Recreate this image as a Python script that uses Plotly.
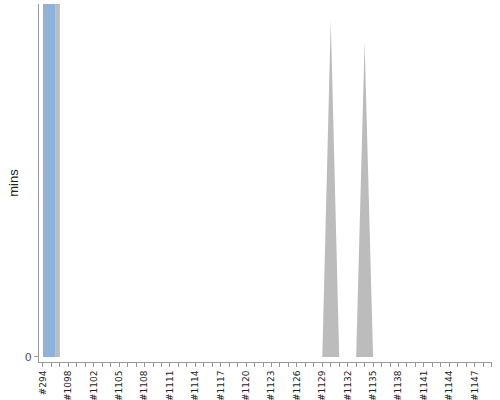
import plotly.graph_objects as go

# Build labels (categories on the x axis)
builds = ["#294", "#1096", "#1097", "#1098", "#1099", "#1101"] + [f"#{n}" for n in range(1102, 1150)]

# Tick labels shown (every third build)
shown_labels = ["#294", "#1098", "#1102", "#1105", "#1108", "#1111", "#1114", "#1117",
                "#1120", "#1123", "#1126", "#1129", "#1132", "#1135", "#1138", "#1141",
                "#1144", "#1147"]

# Build durations in minutes per result series (stacked)
# SUCCESS (blue): the very old outlier builds, far above the visible range
success_mins = [500, 500] + [0] * 52
# ABORTED / other (grey)
grey_mins = [0] * 54
grey_mins[builds.index("#1130")] = 0.955
grey_mins[builds.index("#1134")] = 0.892

ticktext = [b if b in shown_labels else "" for b in builds]

fig = go.Figure()
fig.add_trace(go.Scatter(
    x=builds, y=success_mins, stackgroup="s", mode="none",
    line=dict(shape="hvh", width=0), fillcolor="#8EB2D9", hoverinfo="skip"))
fig.add_trace(go.Scatter(
    x=builds, y=grey_mins, stackgroup="s", mode="none",
    line=dict(shape="linear", width=0), fillcolor="#BCBCBC", hoverinfo="skip"))

fig.update_layout(
    width=500, height=400,
    margin=dict(l=39, r=8, t=4, b=38, autoexpand=False),
    paper_bgcolor="white", plot_bgcolor="white",
    showlegend=False,
    font=dict(family="DejaVu Sans", size=10, color="#222222"),
)
fig.update_xaxes(
    type="category", tickmode="array", tickvals=builds, ticktext=ticktext,
    range=[-0.47, 53.05], tickangle=-90, automargin=False,
    showline=True, linecolor="#999999", linewidth=1,
    ticks="outside", ticklen=4, tickcolor="#999999",
    showgrid=False, zeroline=False,
    tickfont=dict(family="DejaVu Sans", size=9, color="#222222"),
)
fig.update_yaxes(
    range=[-0.0142, 1.0], tickmode="array", tickvals=[0], ticktext=["0"],
    automargin=False,
    showline=True, linecolor="#999999", linewidth=1,
    ticks="outside", ticklen=4, tickcolor="#999999",
    showgrid=False, zeroline=False,
    title=dict(text="mins", font=dict(family="Liberation Sans", size=13, color="#222222"), standoff=3),
    tickfont=dict(family="DejaVu Sans", size=11, color="#555555"),
)

fig.write_html("out.html", config={"displayModeBar": False},
               post_script="document.body.style.margin='0';")
